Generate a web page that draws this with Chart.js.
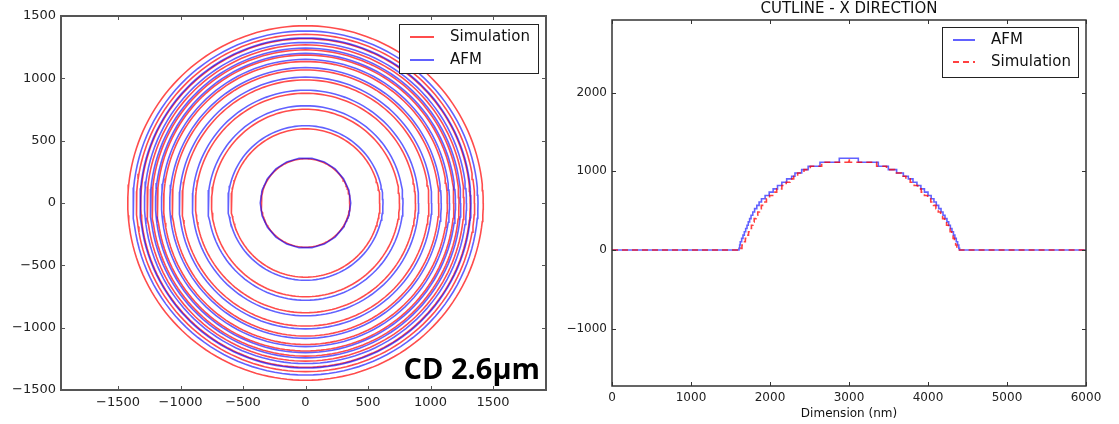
<!DOCTYPE html>
<html lang="en">
<head>
  <meta charset="UTF-8">
  <title>AFM vs Simulation - CD 2.6um</title>
  <script src="https://cdn.jsdelivr.net/npm/chart.js"></script>
  <style>
    body {
      margin: 0;
      background: #fff;
      width: 1119px;
      height: 424px;
      overflow: hidden;
      position: relative;
    }
    .panel {
      position: absolute;
      top: 0;
    }
    #left { left: 0; }
    #right { left: 560px; }
  </style>
</head>
<body>
  <div class="panel" id="left"><canvas id="contourChart" width="560" height="424"></canvas></div>
  <div class="panel" id="right"><canvas id="cutlineChart" width="559" height="424"></canvas></div>
  <script>
    // contour radii (nm)
    const simRadii = [355, 595, 752, 880, 987, 1067, 1135, 1187, 1228, 1268, 1318, 1353, 1422];
    const afmRadii = [362, 620, 780, 905, 1010, 1086, 1152, 1200, 1242, 1288, 1324, 1380];

    // cutline staircase: x where each level starts (nm), and the level heights (nm)
    const afmX = [0, 1607, 1616, 1624, 1641, 1658, 1675, 1692, 1709, 1725,
                  1742, 1760, 1782, 1805, 1833, 1862, 1892, 1938, 1990, 2040,
                  2095, 2150, 2211, 2274, 2316, 2401, 2483, 2633, 2877, 3118,
                  3371, 3498, 3603, 3688, 3751, 3810, 3860, 3910, 3955, 4000,
                  4040, 4075, 4105, 4135, 4165, 4190, 4215, 4240, 4262, 4283,
                  4303, 4322, 4340, 4358, 4375, 4390, 4400, 6000];
    const afmH = [0, 21, 63, 105, 147, 189, 231, 273, 315, 357,
                  399, 441, 483, 525, 567, 609, 651, 693, 735, 777,
                  819, 861, 903, 937, 979, 1021, 1063, 1114, 1165, 1114,
                  1063, 1021, 979, 937, 903, 861, 819, 777, 735, 693,
                  651, 609, 567, 525, 483, 441, 399, 357, 315, 273,
                  231, 189, 147, 105, 63, 21, 0, 0];
    const simX = [0, 1625, 1645, 1665, 1688, 1708, 1728, 1748, 1765, 1783,
                  1800, 1822, 1845, 1866, 1890, 1920, 1955, 1995, 2045, 2085,
                  2150, 2205, 2255, 2300, 2350, 2430, 2510, 2654, 2996, 3004,
                  3350, 3475, 3575, 3660, 3720, 3775, 3825, 3870, 3915, 3955,
                  3995, 4035, 4070, 4100, 4130, 4160, 4185, 4210, 4235, 4258,
                  4280, 4300, 4318, 4335, 4350, 4365, 4378, 6000];
    const simH = [0, 21, 63, 105, 147, 189, 231, 273, 315, 357,
                  399, 441, 483, 525, 567, 609, 651, 693, 735, 777,
                  819, 861, 903, 937, 979, 1021, 1063, 1114, 1165, 1114,
                  1063, 1021, 979, 937, 903, 861, 819, 777, 735, 693,
                  651, 609, 567, 525, 483, 441, 399, 357, 315, 273,
                  231, 189, 147, 105, 63, 21, 0, 0];

    // tick labels
    const contourXTicks = [-1500, -1000, -500, 0, 500, 1000, 1500];
    const contourYTicks = [-1500, -1000, -500, 0, 500, 1000, 1500];
    const cutXTicks = [0, 1000, 2000, 3000, 4000, 5000, 6000];
    const cutYTicks = [-1000, 0, 1000, 2000];

    const RED = 'rgba(255, 0, 0, 0.7)';
    const BLUE = 'rgba(0, 0, 255, 0.62)';
    const FONT = '"DejaVu Sans", sans-serif';

    function fmt(v) {
      return (v < 0 ? '\u2212' : '') + Math.abs(v);
    }

    // closed outline of a contour ring of radius r
    function ring(r, n) {
      const pts = [];
      for (let i = 0; i <= n; i++) {
        const a = 2 * Math.PI * i / n;
        pts.push({ x: r * Math.cos(a), y: r * Math.sin(a) });
      }
      return pts;
    }

    function steps(xs, hs) {
      return xs.map((x, i) => ({ x: x, y: hs[i] }));
    }

    function axis(min, max, ticks, size, pad, fontSize, isX) {
      return {
        type: 'linear',
        min: min,
        max: max,
        afterBuildTicks: s => { s.ticks = ticks.map(v => ({ value: v })); },
        afterFit: s => { if (isX) s.height = size; else s.width = size; },
        grid: { display: false, drawTicks: false },
        border: { display: false },
        ticks: {
          autoSkip: false,
          maxRotation: 0,
          padding: pad,
          color: '#222',
          font: { family: FONT, size: fontSize },
          callback: v => fmt(v)
        }
      };
    }

    // box, inward ticks on all four sides, matplotlib style legend and extra texts
    function decor(cfg) {
      return {
        id: 'decor',
        afterDatasetsDraw(chart) {
          const { ctx, chartArea: a, scales: { x, y } } = chart;
          ctx.save();
          ctx.strokeStyle = cfg.frameColor;
          ctx.lineWidth = 1;
          ctx.beginPath();
          x.ticks.forEach(t => {
            const p = Math.round(x.getPixelForValue(t.value)) + 0.5;
            ctx.moveTo(p, a.top); ctx.lineTo(p, a.top + 4);
            ctx.moveTo(p, a.bottom); ctx.lineTo(p, a.bottom - 4);
          });
          y.ticks.forEach(t => {
            const p = Math.round(y.getPixelForValue(t.value)) + 0.5;
            ctx.moveTo(a.left, p); ctx.lineTo(a.left + 4, p);
            ctx.moveTo(a.right, p); ctx.lineTo(a.right - 4, p);
          });
          ctx.stroke();
          ctx.lineWidth = cfg.frameWidth;
          ctx.strokeRect(a.left, a.top, a.right - a.left, a.bottom - a.top);

          const L = cfg.legend;
          ctx.lineWidth = 1;
          ctx.strokeStyle = '#222';
          ctx.fillStyle = '#fff';
          ctx.fillRect(L.x, L.y, L.w, L.h);
          ctx.strokeRect(L.x + 0.5, L.y + 0.5, L.w - 1, L.h - 1);
          ctx.font = '15px ' + FONT;
          ctx.textBaseline = 'middle';
          ctx.textAlign = 'left';
          L.items.forEach(it => {
            const ds = chart.data.datasets.find(d => d.label === it.label);
            ctx.save();
            ctx.strokeStyle = ds.borderColor;
            ctx.lineWidth = 2;
            ctx.setLineDash(ds.borderDash || []);
            ctx.beginPath();
            ctx.moveTo(L.x + L.lineFrom, L.y + it.dy);
            ctx.lineTo(L.x + L.lineTo, L.y + it.dy);
            ctx.stroke();
            ctx.restore();
            ctx.fillStyle = '#111';
            ctx.fillText(it.label, L.x + L.textX, L.y + it.dy);
          });

          (cfg.texts || []).forEach(t => {
            ctx.font = t.font;
            ctx.fillStyle = t.color || '#111';
            ctx.textAlign = t.align;
            ctx.textBaseline = t.baseline;
            ctx.fillText(t.text, t.x, t.y);
          });
          ctx.restore();
        }
      };
    }

    const contourSets = [];
    simRadii.forEach(r => contourSets.push({
      label: 'Simulation', data: ring(r, 180), borderColor: RED, borderWidth: 1.6, order: 2
    }));
    afmRadii.forEach(r => contourSets.push({
      label: 'AFM', data: ring(r, r < 400 ? 22 : 140), borderColor: BLUE, borderWidth: 1.6, order: 1
    }));

    new Chart(document.getElementById('contourChart'), {
      type: 'scatter',
      data: { datasets: contourSets },
      options: {
        responsive: false,
        animation: false,
        showLine: true,
        elements: { point: { radius: 0 }, line: { tension: 0 } },
        layout: { padding: { top: 16, right: 14, left: 0, bottom: 0 } },
        plugins: { legend: { display: false }, tooltip: { enabled: false } },
        scales: {
          x: axis(-1956, 1924, contourXTicks, 34, 5, 13, true),
          y: axis(-1500, 1500, contourYTicks, 61, 5, 13, false)
        }
      },
      plugins: [decor({
        frameColor: '#555',
        frameWidth: 2,
        legend: {
          x: 399, y: 24, w: 140, h: 50, lineFrom: 11, lineTo: 35, textX: 51,
          items: [{ label: 'Simulation', dy: 13 }, { label: 'AFM', dy: 36 }]
        },
        texts: [{ text: 'CD 2.6\u03bcm', x: 540, y: 379, align: 'right', baseline: 'alphabetic',
                  font: 'bold 29px "Open Sans", sans-serif', color: '#000' }]
      })]
    });

    new Chart(document.getElementById('cutlineChart'), {
      type: 'scatter',
      data: {
        datasets: [
          { label: 'AFM', data: steps(afmX, afmH), borderColor: BLUE, borderWidth: 1.6, stepped: true, order: 2 },
          { label: 'Simulation', data: steps(simX, simH), borderColor: 'rgba(255, 0, 0, 0.75)', borderWidth: 1.6,
            borderDash: [6, 4], stepped: true, order: 1 }
        ]
      },
      options: {
        responsive: false,
        animation: false,
        showLine: true,
        elements: { point: { radius: 0 } },
        layout: { padding: { top: 20, right: 33, left: 0, bottom: 0 } },
        plugins: { legend: { display: false }, tooltip: { enabled: false } },
        scales: {
          x: axis(0, 6000, cutXTicks, 38, 5, 12, true),
          y: axis(-1728, 2922, cutYTicks, 52, 5, 12, false)
        }
      },
      plugins: [decor({
        frameColor: '#333',
        frameWidth: 1.5,
        legend: {
          x: 382, y: 27, w: 137, h: 51, lineFrom: 11, lineTo: 33, textX: 49,
          items: [{ label: 'AFM', dy: 13 }, { label: 'Simulation', dy: 35 }]
        },
        texts: [
          { text: 'CUTLINE - X DIRECTION', x: 289, y: 9, align: 'center', baseline: 'middle',
            font: '15px "DejaVu Sans", sans-serif' },
          { text: 'Dimension (nm)', x: 289, y: 414, align: 'center', baseline: 'middle',
            font: '12px "DejaVu Sans", sans-serif' }
        ]
      })]
    });
  </script>
</body>
</html>
